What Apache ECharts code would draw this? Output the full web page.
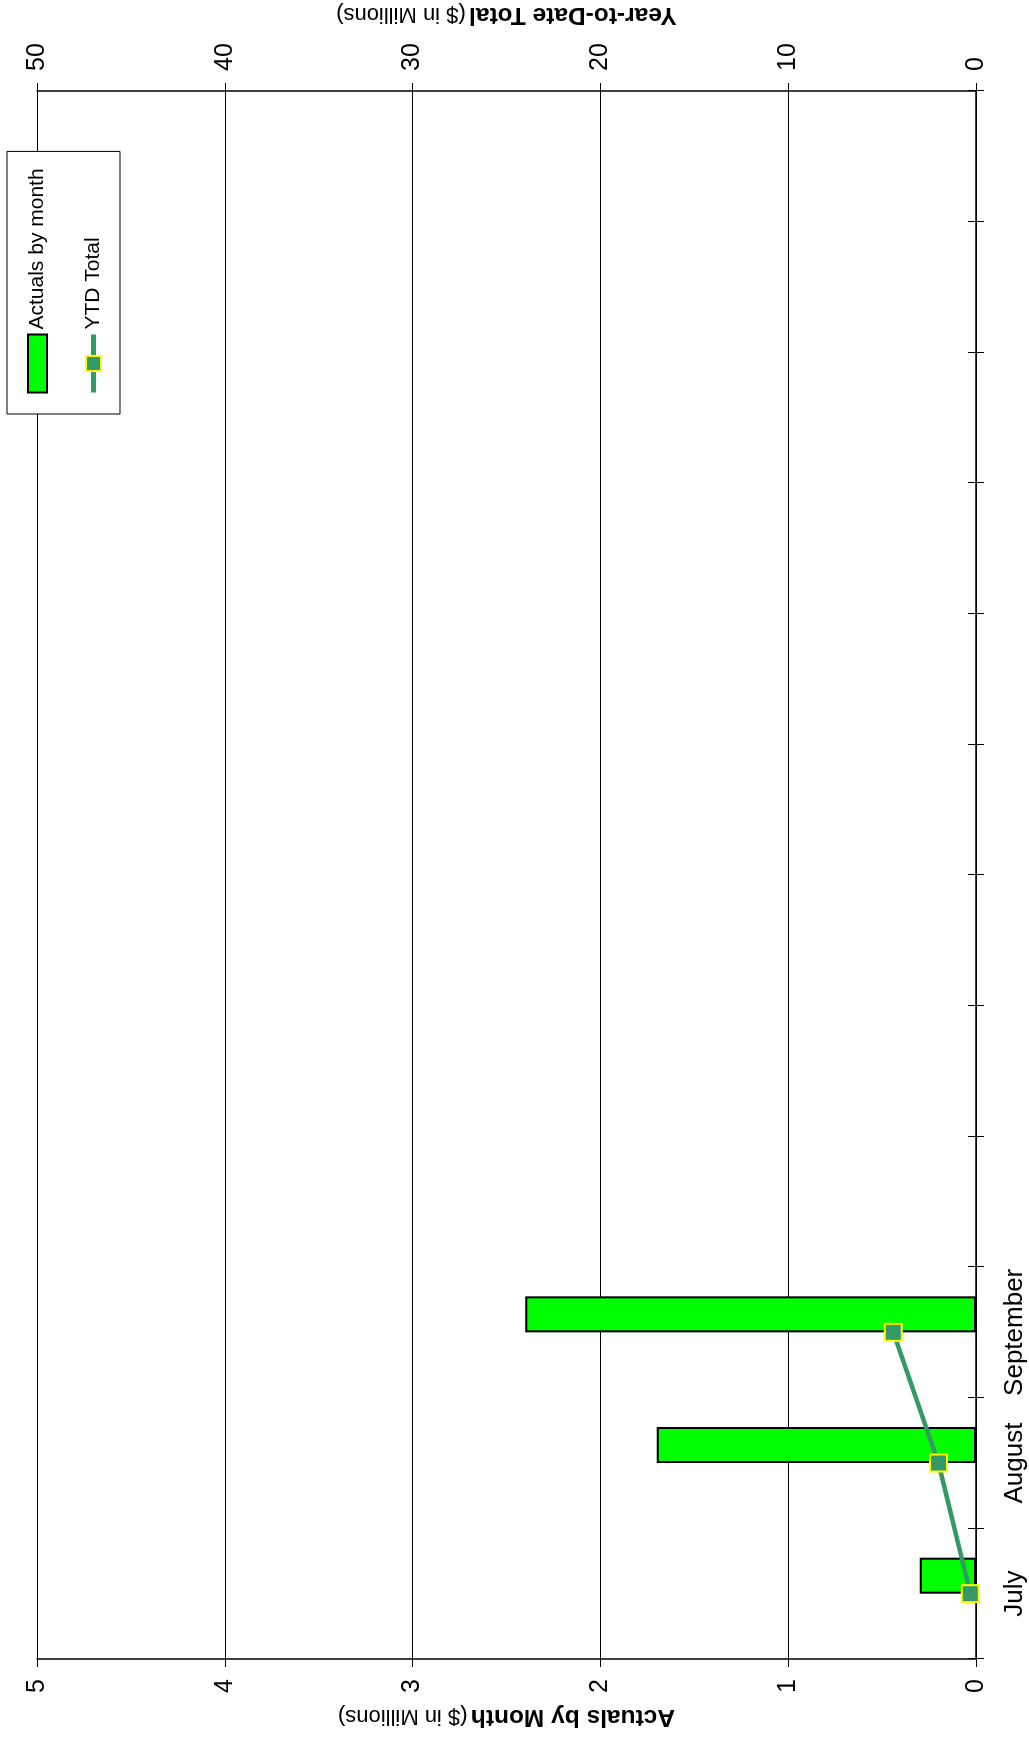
<!DOCTYPE html>
<html>
<head>
<meta charset="utf-8">
<script src="https://cdn.jsdelivr.net/npm/echarts@6/dist/echarts.min.js"></script>
<style>
  html, body { margin: 0; padding: 0; background: #fff; overflow: hidden; }
  body { width: 1029px; height: 1742px; position: relative; }
  /* The chart is laid out landscape and turned a quarter turn counter-clockwise onto the page */
  #chart {
    position: absolute; left: 0; top: 0;
    width: 1742px; height: 1029px;
    transform-origin: 0 0;
    transform: translate(0, 1742px) rotate(-90deg);
  }
</style>
</head>
<body>
<div id="chart"></div>
<script>
// Fiscal-year months; only the first quarter carries names and data so far
const categories = ['July', 'August', 'September', '', '', '', '', '', '', '', '', ''];
const actualsByMonth = [0.3, 1.7, 2.4];   // $ in millions
const ytdTotal = [0.3, 2.0, 4.4];         // $ in millions, running total
const actualsTicks = { min: 0, max: 5, interval: 1 };
const ytdTicks = { min: 0, max: 50, interval: 10 };

const FONT = '"Liberation Sans", Arial, Helvetica, sans-serif';
const chart = echarts.init(document.getElementById('chart'), null, { renderer: 'canvas' });

const valueAxisBase = {
  type: 'value',
  nameLocation: 'middle',
  nameRotate: 90,
  axisLine: { show: true, lineStyle: { color: '#000', width: 1.5 } },
  axisTick: { show: true, length: 8, lineStyle: { color: '#000', width: 1 } },
  axisLabel: { color: '#000', fontSize: 25, fontFamily: FONT, margin: 20 }
};

const titleRich = {
  b: { fontSize: 24.5, fontWeight: 'bold', fontFamily: FONT, color: '#000' },
  n: { fontSize: 22, fontFamily: FONT, color: '#000' }
};

chart.setOption({
  backgroundColor: '#fff',
  animation: false,
  grid: { left: 83, right: 91, top: 37, bottom: 53, containLabel: false, outerBoundsMode: 'none' },
  legend: {
    data: [
      { name: 'Actuals by month', icon: 'rect' },
      { name: 'YTD Total' }
    ],
    orient: 'vertical',
    left: 1328,
    top: 7,
    itemWidth: 58,
    itemHeight: 19,
    itemGap: 35,
    padding: [20, 17, 16, 19],
    backgroundColor: '#fff',
    borderColor: '#000',
    borderWidth: 1,
    lineStyle: { width: 5 },
    textStyle: { color: '#000', fontSize: 21, fontFamily: FONT }
  },
  xAxis: [
    {
      type: 'category',
      data: categories,
      position: 'bottom',
      boundaryGap: true,
      axisLine: { show: true, lineStyle: { color: '#000', width: 1.5 } },
      axisTick: { show: true, interval: 0, length: 8, lineStyle: { color: '#000', width: 1 } },
      axisLabel: { interval: 0, color: '#000', fontSize: 26, fontFamily: FONT, margin: 26 }
    },
    {
      // inner half of the crossing ticks on the month axis
      type: 'category',
      data: categories,
      position: 'bottom',
      boundaryGap: true,
      axisLine: { show: false },
      axisTick: { show: true, inside: true, interval: 0, length: 8, lineStyle: { color: '#000', width: 1 } },
      axisLabel: { show: false }
    }
  ],
  yAxis: [
    Object.assign({}, valueAxisBase, {
      position: 'left',
      min: actualsTicks.min, max: actualsTicks.max, interval: actualsTicks.interval,
      name: '{b|Actuals by Month} {n|($ in Millions)}',
      nameGap: 45,
      nameTextStyle: { rich: titleRich },
      splitLine: { show: true, lineStyle: { color: '#000', width: 1 } }
    }),
    Object.assign({}, valueAxisBase, {
      position: 'right',
      min: ytdTicks.min, max: ytdTicks.max, interval: ytdTicks.interval,
      name: '{b|Year-to-Date Total} {n|($ in Millions)}',
      nameGap: 64,
      nameTextStyle: { rich: titleRich },
      splitLine: { show: false }
    })
  ],
  series: [
    {
      // empty slot that holds the left half of each month, so the bar sits beside the point
      name: 'slot',
      type: 'bar',
      data: [],
      barWidth: 36,
      barGap: '0%'
    },
    {
      name: 'Actuals by month',
      type: 'bar',
      data: actualsByMonth,
      barWidth: 36,
      barGap: '0%',
      itemStyle: { color: '#00FF00', borderColor: '#000', borderWidth: 2 }
    },
    {
      name: 'YTD Total',
      type: 'line',
      yAxisIndex: 1,
      data: ytdTotal,
      smooth: false,
      symbol: 'rect',
      symbolSize: 17,
      z: 5,
      lineStyle: { color: '#339966', width: 4.5 },
      itemStyle: { color: '#339966', borderColor: '#FFFF00', borderWidth: 2 }
    }
  ]
});
</script>
</body>
</html>
